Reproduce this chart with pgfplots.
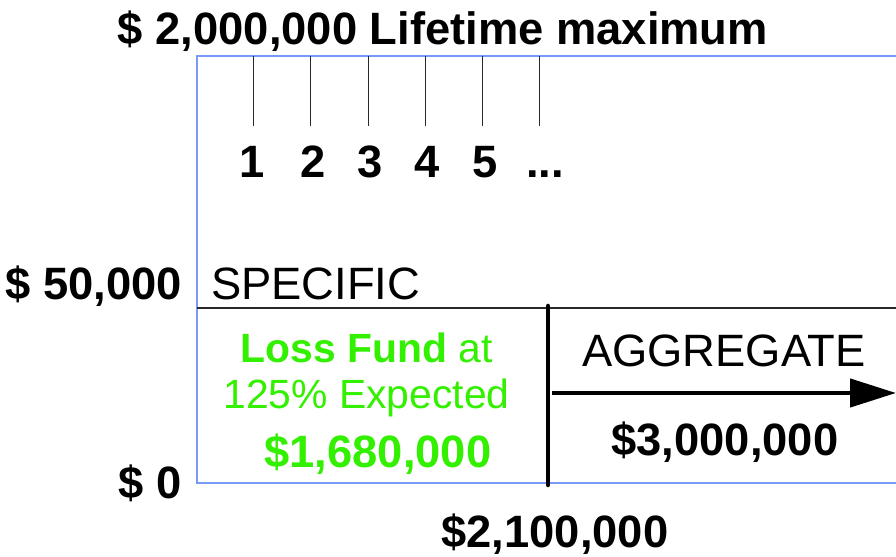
\documentclass[border=0pt]{standalone}
\usepackage{pgfplots}
\pgfplotsset{compat=1.18}
\usepackage{fontspec}
\setmainfont{Liberation Sans}
\usetikzlibrary{arrows.meta}
\definecolor{fgreen}{RGB}{51,240,0}
\definecolor{fblue}{RGB}{120,155,250}
\definecolor{lgray}{RGB}{40,40,40}
\newcommand{\bigtxt}{\fontsize{45.5}{54}\selectfont}
\newcommand{\midtxt}{\fontsize{41}{49}\selectfont}
\begin{document}
\begin{tikzpicture}
\useasboundingbox (0,0) rectangle (896bp,557bp);
\begin{axis}[
  at={(197bp,74bp)}, anchor=south west,
  scale only axis, width=699bp, height=427bp,
  xmin=0, xmax=699, ymin=0, ymax=427,
  hide axis, clip=false,
]
% frame
\addplot[fblue, line width=1.3bp] coordinates {(699,427) (0,427) (0,0) (699,0)};
% specific line
\addplot[lgray, line width=1.1bp] coordinates {(0,175) (699,175)};
% claim ticks
\addplot[lgray, line width=0.8bp] coordinates {(56,357) (56,427)};
\addplot[lgray, line width=0.8bp] coordinates {(113,357) (113,427)};
\addplot[lgray, line width=0.8bp] coordinates {(171,357) (171,427)};
\addplot[lgray, line width=0.8bp] coordinates {(228,357) (228,427)};
\addplot[lgray, line width=0.8bp] coordinates {(285,357) (285,427)};
\addplot[lgray, line width=0.8bp] coordinates {(342,357) (342,427)};
% aggregate boundary
\addplot[black, line width=4.5bp, line cap=round] coordinates {(351,177) (351,-2)};
\addplot[black, line width=4.5bp, -{Triangle[length=46bp,width=28bp]}] coordinates {(355,90) (699,90)};
% texts
\node[anchor=base, font=\bigtxt\bfseries] at (axis cs:246,438) {\$ 2,000,000 Lifetime maximum};
\node[anchor=base, font=\bigtxt\bfseries] at (axis cs:55,305) {1};
\node[anchor=base, font=\bigtxt\bfseries] at (axis cs:116,305) {2};
\node[anchor=base, font=\bigtxt\bfseries] at (axis cs:173,305) {3};
\node[anchor=base, font=\bigtxt\bfseries] at (axis cs:230,305) {4};
\node[anchor=base, font=\bigtxt\bfseries] at (axis cs:288,305) {5};
\node[anchor=base, font=\bigtxt\bfseries] at (axis cs:348,305) {...};
\node[anchor=base east, font=\bigtxt\bfseries, inner sep=0pt] at (axis cs:-15,183) {\$ 50,000};
\node[anchor=base east, font=\bigtxt\bfseries, inner sep=0pt] at (axis cs:-15,-15) {\$ 0};
\node[anchor=base west, font=\bigtxt, inner sep=0pt] at (axis cs:14,183) {SPECIFIC};
\node[anchor=base, font=\midtxt, text=fgreen] at (axis cs:169.5,120) {\textbf{Loss Fund} at};
\node[anchor=base, font=\midtxt, text=fgreen] at (axis cs:169.5,74) {125\% Expected};
\node[anchor=base, font=\bigtxt\bfseries, text=fgreen] at (axis cs:181,16) {\$1,680,000};
\node[anchor=base, font=\bigtxt] at (axis cs:527,116) {AGGREGATE};
\node[anchor=base, font=\bigtxt\bfseries] at (axis cs:528,28) {\$3,000,000};
\node[anchor=base, font=\bigtxt\bfseries] at (axis cs:358,-64) {\$2,100,000};
\end{axis}
\end{tikzpicture}
\end{document}
